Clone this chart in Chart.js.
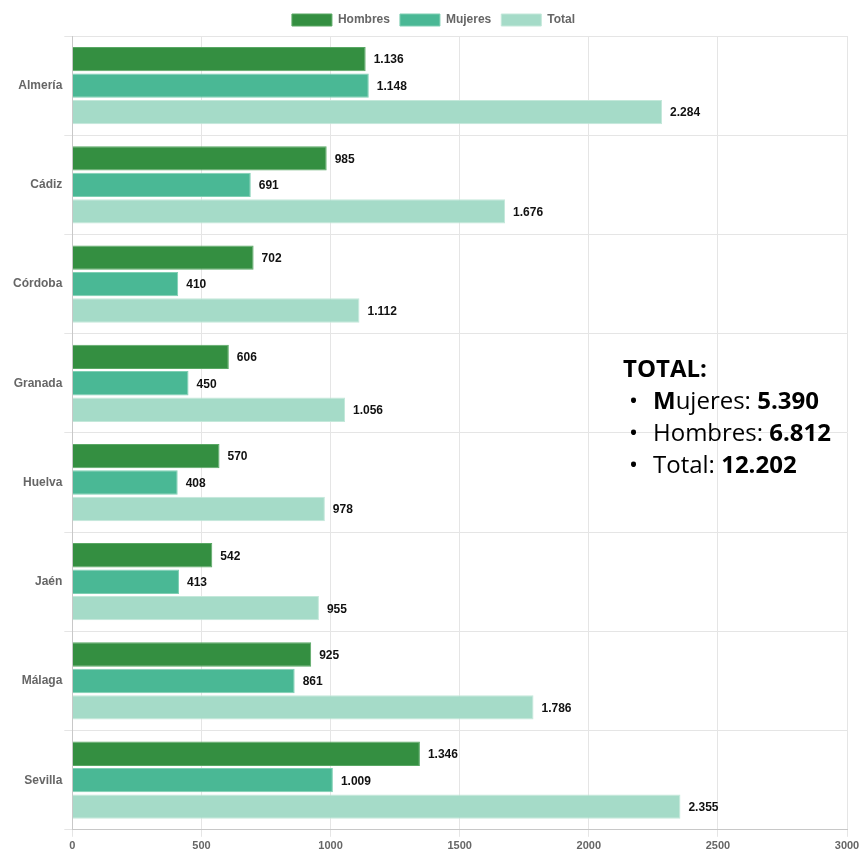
<!DOCTYPE html>
<html>
<head>
<meta charset="utf-8">
<script src="https://cdn.jsdelivr.net/npm/chart.js@4/dist/chart.umd.min.js"></script>
<style>
html,body{margin:0;padding:0;background:#fff;}
#wrap{position:relative;width:860px;height:854px;}
#totals{position:absolute;left:623px;top:352px;font-family:"Open Sans",sans-serif;font-size:24px;color:#000;line-height:32px;white-space:nowrap;}
#totals .it{position:relative;padding-left:30px;}
#totals .it:before{content:"•";position:absolute;left:6px;top:0;font-size:24px;}
</style>
</head>
<body>
<div id="wrap">
<canvas id="c" width="860" height="854"></canvas>
<div id="totals">
<div><b>TOTAL:</b></div>
<div class="it"><b>M</b>ujeres: <b>5.390</b></div>
<div class="it">Hombres: <b>6.812</b></div>
<div class="it">Total: <b>12.202</b></div>
</div>
</div>
<script>
const categories = ["Almería","Cádiz","Córdoba","Granada","Huelva","Jaén","Málaga","Sevilla"];
const hombres = [1136, 985, 702, 606, 570, 542, 925, 1346];
const mujeres = [1148, 691, 410, 450, 408, 413, 861, 1009];
const total = [2284, 1676, 1112, 1056, 978, 955, 1786, 2355];
const seriesNames = ["Hombres","Mujeres","Total"];
const xTicks = [0, 500, 1000, 1500, 2000, 2500, 3000];

function fmt(v){ return String(v).replace(/\B(?=(\d{3})+(?!\d))/g, "."); }

const valueLabels = {
  id: 'valueLabels',
  afterDatasetsDraw(chart){
    const ctx = chart.ctx;
    ctx.save();
    ctx.font = 'bold 12px "Liberation Sans", Arial, sans-serif';
    ctx.fillStyle = '#111';
    ctx.textBaseline = 'middle';
    ctx.textAlign = 'left';
    chart.data.datasets.forEach((ds, i) => {
      const meta = chart.getDatasetMeta(i);
      meta.data.forEach((bar, j) => {
        ctx.fillText(fmt(ds.data[j]), bar.x + 8, bar.y + 1);
      });
    });
    ctx.restore();
  }
};

Chart.defaults.font.family = '"Liberation Sans", Arial, sans-serif';

new Chart(document.getElementById('c'), {
  type: 'bar',
  data: {
    labels: categories,
    datasets: [
      {label: seriesNames[0], data: hombres, backgroundColor: '#348f41', borderColor: '#5aa865', borderWidth: 1},
      {label: seriesNames[1], data: mujeres, backgroundColor: '#4ab895', borderColor: '#7fcfb3', borderWidth: 1},
      {label: seriesNames[2], data: total, backgroundColor: '#a5dbc8', borderColor: '#c4e8da', borderWidth: 1}
    ]
  },
  options: {
    indexAxis: 'y',
    responsive: false,
    animation: false,
    devicePixelRatio: 1,
    categoryPercentage: 0.8,
    barPercentage: 0.92,
    layout: {padding: {left: 11, right: 4, top: 4, bottom: -2}},
    plugins: {
      legend: {
        position: 'top',
        labels: {
          boxWidth: 40, boxHeight: 12, padding: 10,
          color: '#666',
          font: {size: 12, weight: 'bold'}
        }
      },
      tooltip: {enabled: false}
    },
    scales: {
      x: {
        min: 0, max: 3000,
        afterBuildTicks(axis){ axis.ticks = xTicks.map(v => ({value: v})); },
        afterFit(axis){ axis.paddingRight = 13; },
        ticks: {color: '#666', font: {size: 11, weight: 'bold'}, callback: v => String(v), maxRotation: 0},
        grid: {color: '#e5e5e5', drawTicks: true, tickLength: 7},
        border: {color: '#c8c8c8'}
      },
      y: {
        ticks: {color: '#666', font: {size: 12, weight: 'bold'}, padding: 2},
        grid: {color: '#e5e5e5', tickLength: 8},
        border: {color: '#c8c8c8'}
      }
    }
  },
  plugins: [valueLabels]
});
</script>
</body>
</html>
